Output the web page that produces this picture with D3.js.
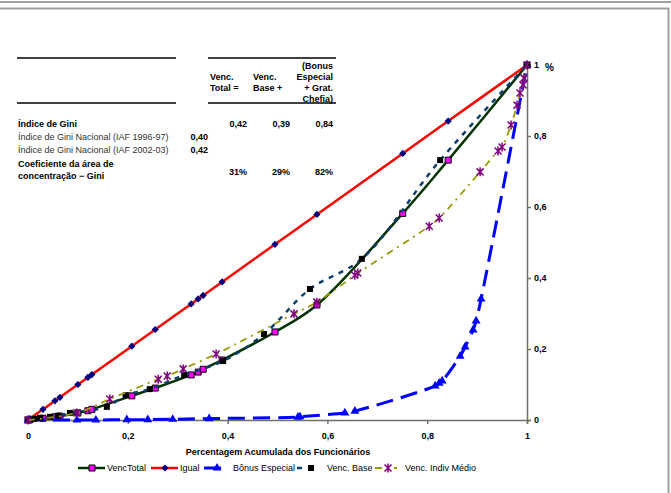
<!DOCTYPE html>
<html lang="pt">
<head>
<meta charset="UTF-8">
<title>Curvas de Lorenz - Vencimentos</title>
<script src="https://d3js.org/d3.v7.min.js"></script>
<style>
  body { margin: 0; background: #fff; }
  svg { display: block; font-family: "Liberation Sans", Arial, sans-serif; }
  .bold { font-weight: bold; }
</style>
</head>
<body>
<div id="chart"></div>
<script>
// cumulative share of employees (ordered by total pay) - shared by Igual and VencTotal
const xTotal = [0, 0.004, 0.03, 0.054, 0.064, 0.10, 0.12, 0.128, 0.208, 0.255, 0.327, 0.341, 0.351, 0.389, 0.495, 0.579, 0.751, 0.842, 1];
const yIgual = [0, 0.004, 0.03, 0.054, 0.064, 0.10, 0.12, 0.128, 0.208, 0.255, 0.327, 0.341, 0.351, 0.389, 0.495, 0.579, 0.751, 0.842, 1];
const yVencTotal = [0, 0.001, 0.005, 0.009, 0.011, 0.02, 0.026, 0.03, 0.068, 0.09, 0.127, 0.135, 0.143, 0.169, 0.248, 0.324, 0.582, 0.732, 1];

const xBonus = [0, 0.098, 0.136, 0.198, 0.24, 0.29, 0.363, 0.541, 0.545, 0.635, 0.655, 0.816, 0.824, 0.83, 0.866, 0.876, 0.892, 0.898, 0.908, 1];
const yBonus = [0, 0, 0, 0.001, 0.001, 0.002, 0.004, 0.008, 0.009, 0.02, 0.025, 0.096, 0.104, 0.11, 0.18, 0.206, 0.254, 0.279, 0.341, 1];

const xBase = [0, 0.012, 0.024, 0.044, 0.06, 0.084, 0.158, 0.196, 0.244, 0.313, 0.391, 0.473, 0.565, 0.669, 0.826, 1];
const yBase = [0, 0.003, 0.006, 0.009, 0.012, 0.02, 0.037, 0.07, 0.087, 0.127, 0.166, 0.242, 0.369, 0.454, 0.732, 1];

const xIndiv = [0, 0.098, 0.164, 0.261, 0.279, 0.311, 0.377, 0.533, 0.579, 0.655, 0.661, 0.804, 0.824, 0.906, 0.942, 0.95, 0.968, 0.98, 0.986, 0.992, 0.994, 1];
const yIndiv = [0, 0.02, 0.059, 0.115, 0.124, 0.144, 0.186, 0.299, 0.332, 0.408, 0.414, 0.546, 0.569, 0.699, 0.758, 0.769, 0.831, 0.887, 0.921, 0.944, 0.963, 1];

const axisTicks = [0, 0.2, 0.4, 0.6, 0.8, 1];
const legendNames = ["VencTotal", "Igual", "Bônus Especial", "Venc. Base", "Venc. Indiv Médio"];

// table in the top left
const colHeaders = [["Venc.", "Total ="], ["Venc.", "Base +"], ["(Bonus", "Especial", "+ Grat.", "Chefia)"]];
const giniValues = ["0,42", "0,39", "0,84"];
const giniNacional = [["Índice de Gini Nacional (IAF 1996-97)", "0,40"], ["Índice de Gini Nacional (IAF 2002-03)", "0,42"]];
const areaCoef = ["31%", "29%", "82%"];

const width = 671, height = 493;
const svg = d3.select("#chart").append("svg")
    .attr("width", width)
    .attr("height", height);

// outer frame
svg.append("line").attr("x1", 0).attr("x2", width).attr("y1", 2).attr("y2", 2)
    .attr("stroke", "#a0a0a0").attr("stroke-width", 2);
svg.append("path").attr("d", "M0,8.5H668.5V493")
    .attr("fill", "none").attr("stroke", "#a0a0a0").attr("stroke-width", 2);

const x = d3.scaleLinear().domain([0, 1]).range([28, 527]);
const y = d3.scaleLinear().domain([0, 1]).range([420, 65]);
const fmt = d => d === 0 ? "0" : d === 1 ? "1" : d3.format(".1f")(d).replace(".", ",");

// axes
const xAxis = svg.append("g").attr("transform", "translate(0,420)")
    .call(d3.axisBottom(x).tickValues(axisTicks).tickFormat(fmt).tickSize(4).tickPadding(9));
const yAxis = svg.append("g").attr("transform", "translate(527,0)")
    .call(d3.axisRight(y).tickValues(axisTicks).tickFormat(fmt).tickSize(4).tickPadding(3));
[xAxis, yAxis].forEach(g => {
  g.select(".domain").attr("stroke", "#707070").attr("stroke-width", 1.5);
  g.selectAll(".tick line").attr("stroke", "#707070").attr("stroke-width", 1.5);
  g.selectAll(".tick text").attr("font-size", 9).attr("font-weight", "bold")
    .attr("font-family", "Liberation Sans, Arial, sans-serif").attr("fill", "#000");
});

svg.append("text").attr("x", 545).attr("y", 71).attr("class", "bold")
    .attr("font-size", 10).text("%");
svg.append("text").attr("x", 278).attr("y", 455).attr("text-anchor", "middle")
    .attr("class", "bold").attr("font-size", 9)
    .text("Percentagem Acumulada dos Funcionários");

// series
const square = d3.symbol(d3.symbolSquare, 36);
const triangle = d3.symbol(d3.symbolTriangle, 34);
const diamondPath = "M0,-3.6L3.6,0L0,3.6L-3.6,0Z";
const starPath = "M-3.5,-3.5L3.5,3.5M-3.5,3.5L3.5,-3.5M0,-4.5V4.5";

const series = [
  { xs: xTotal, ys: yVencTotal, color: "#003300", w: 2.5, dash: null,
    marker: g => g.append("path").attr("d", square()).attr("fill", "#ff00ff").attr("stroke", "#000").attr("stroke-width", 1) },
  { xs: xTotal, ys: yIgual, color: "#ff0000", w: 2.5, dash: null,
    marker: g => g.append("path").attr("d", diamondPath).attr("fill", "#000080") },
  { xs: xBonus, ys: yBonus, color: "#0000ff", w: 3, dash: "17,8",
    marker: g => g.append("path").attr("d", triangle()).attr("fill", "#0000ff") },
  { xs: xBase, ys: yBase, color: "#0c3c6c", w: 2.5, dash: "5,6",
    marker: g => g.append("path").attr("d", square()).attr("fill", "#000") },
  { xs: xIndiv, ys: yIndiv, color: "#999900", w: 1.8, dash: "7,5,2,5",
    marker: g => g.append("path").attr("d", starPath).attr("fill", "none").attr("stroke", "#800080").attr("stroke-width", 1.5) }
];

const line = d3.line().x(d => x(d[0])).y(d => y(d[1])).curve(d3.curveCatmullRom.alpha(0.5));

series.forEach(s => {
  const pts = s.xs.map((v, i) => [v, s.ys[i]]);
  svg.append("path").datum(pts).attr("d", line)
    .attr("fill", "none").attr("stroke", s.color).attr("stroke-width", s.w)
    .attr("stroke-dasharray", s.dash);
  const m = svg.append("g").selectAll("g").data(pts).enter().append("g")
    .attr("transform", d => `translate(${x(d[0])},${y(d[1])})`);
  m.each(function() { s.marker(d3.select(this)); });
});

// legend
const legendPos = [[78, 105, 92, 107], [151, 178, 165, 180], [204, 222, 217, 233], [297, 313, 311, 327], [375, 397, 388, 405]];
legendNames.forEach((name, i) => {
  const s = series[i], p = legendPos[i];
  const g = svg.append("g");
  g.append("line").attr("x1", p[0]).attr("x2", p[1]).attr("y1", 468).attr("y2", 468)
    .attr("stroke", s.color).attr("stroke-width", s.w).attr("stroke-dasharray", s.dash);
  const mk = g.append("g").attr("transform", `translate(${p[2]},468)`);
  s.marker(mk);
  g.append("text").attr("x", p[3]).attr("y", 471).attr("font-size", 9).text(name);
});

// table
const tbl = svg.append("g").attr("font-size", 9);
[58, 103].forEach(yy => {
  tbl.append("line").attr("x1", 17).attr("x2", 176).attr("y1", yy).attr("y2", yy).attr("stroke", "#000").attr("stroke-width", 1.5);
  tbl.append("line").attr("x1", 208).attr("x2", 336).attr("y1", yy).attr("y2", yy).attr("stroke", "#000").attr("stroke-width", 1.5);
});
const colRight = [247, 290, 333];
colHeaders.forEach((lines, c) => {
  const start = lines.length === 2 ? 1 : 0;
  lines.forEach((t, k) => {
    const txt = tbl.append("text").attr("class", "bold").attr("y", 69 + (start + k) * 11).text(t);
    if (c < 2) txt.attr("x", c === 0 ? 210 : 253);
    else txt.attr("x", colRight[c]).attr("text-anchor", "end");
  });
});
tbl.append("text").attr("class", "bold").attr("x", 18).attr("y", 127).text("Índice de Gini");
giniValues.forEach((v, c) => tbl.append("text").attr("class", "bold").attr("x", colRight[c]).attr("y", 127).attr("text-anchor", "end").text(v));
giniNacional.forEach((r, k) => {
  tbl.append("text").attr("x", 18).attr("y", 140 + k * 13).attr("fill", "#333").text(r[0]);
  tbl.append("text").attr("class", "bold").attr("x", 208).attr("y", 140 + k * 13).attr("text-anchor", "end").text(r[1]);
});
tbl.append("text").attr("class", "bold").attr("x", 18).attr("y", 167).text("Coeficiente da área de");
tbl.append("text").attr("class", "bold").attr("x", 18).attr("y", 179).text("concentração − Gini");
areaCoef.forEach((v, c) => tbl.append("text").attr("class", "bold").attr("x", colRight[c]).attr("y", 175).attr("text-anchor", "end").text(v));
</script>
</body>
</html>
